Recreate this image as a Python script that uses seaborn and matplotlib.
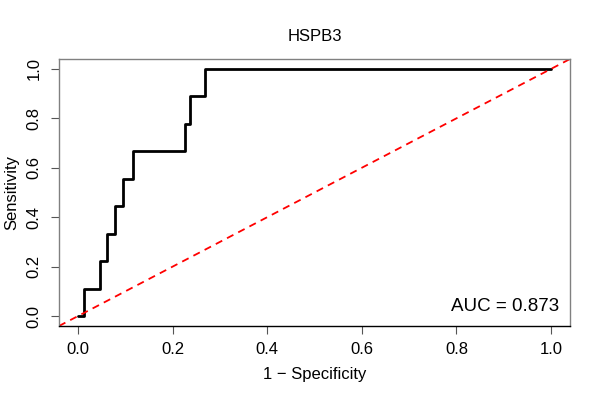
import numpy as np
import pandas as pd
import seaborn as sns
import matplotlib
matplotlib.use("Agg")
import matplotlib.pyplot as plt

# ROC curve points (1 - specificity vs sensitivity)
fpr = [0.0, 0.013, 0.047, 0.061, 0.079, 0.096, 0.117, 0.227, 0.236, 0.269, 1.0]
tpr = [0.0, 1/9, 2/9, 3/9, 4/9, 5/9, 6/9, 7/9, 8/9, 1.0, 1.0]
tick_values = [0.0, 0.2, 0.4, 0.6, 0.8, 1.0]
tick_labels = ["0.0", "0.2", "0.4", "0.6", "0.8", "1.0"]
title = "HSPB3"
auc_text = "AUC = 0.873"

sns.set_style("white")
plt.rcParams['font.family'] = ['Liberation Sans', 'DejaVu Sans']
plt.rcParams['text.color'] = 'black'
plt.rcParams['axes.labelcolor'] = 'black'
plt.rcParams['xtick.color'] = 'black'
plt.rcParams['ytick.color'] = 'black'

roc = pd.DataFrame({"fpr": fpr, "tpr": tpr})

fig = plt.figure(figsize=(6, 4), dpi=100)
ax = fig.add_axes([0.0983, 0.185, 0.8517, 0.6675])

sns.lineplot(data=roc, x="fpr", y="tpr", ax=ax, sort=False, color="black",
    linewidth=2.0, drawstyle="steps-post", estimator=None)

# chance diagonal across the whole box
ax.axline((0, 0), slope=1, color="red", linestyle=(0, (4, 3)), linewidth=1.3)

ax.set_xlim(-0.04, 1.04)
ax.set_ylim(-0.04, 1.04)
ax.set_xticks(tick_values)
ax.set_xticklabels(tick_labels, fontsize=12)
ax.set_yticks(tick_values)
ax.set_yticklabels(tick_labels, fontsize=12, rotation=90, va="center")
ax.tick_params(axis="both", direction="out", length=5.5, width=0.8,
    color="#555555", labelcolor="black", bottom=True, left=True)
ax.tick_params(axis="x", pad=6)
ax.tick_params(axis="y", pad=7)

for side in ["left", "top", "right"]:
    ax.spines[side].set_color("#808080")
    ax.spines[side].set_linewidth(1.0)
ax.spines["bottom"].set_color("black")
ax.spines["bottom"].set_linewidth(1.0)

ax.set_xlabel("1 \u2212 Specificity", fontsize=12, labelpad=7)
ax.set_ylabel("Sensitivity", fontsize=12, labelpad=5)
ax.set_title(title, fontsize=12, pad=13)

ax.text(0.978, 0.056, auc_text, transform=ax.transAxes, ha="right",
    va="baseline", fontsize=13.5)

plt.savefig("out.png", dpi=100)
